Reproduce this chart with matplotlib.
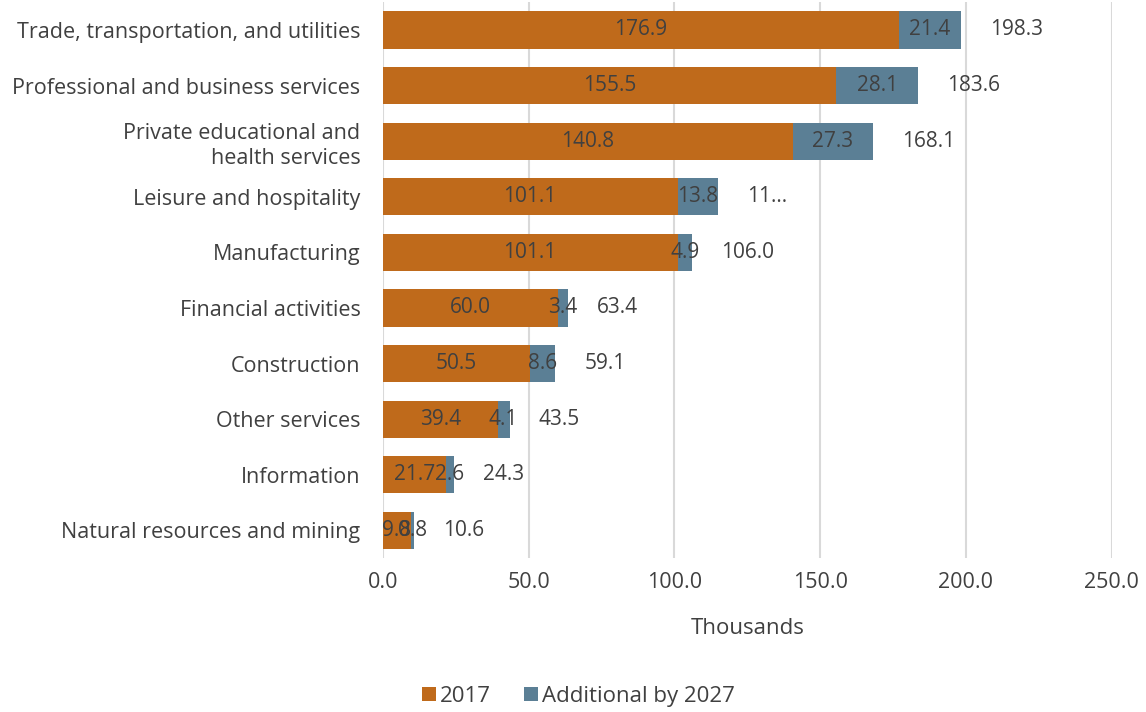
import matplotlib.pyplot as plt

plt.rcParams['font.family'] = ['Open Sans', 'DejaVu Sans']

# Employment by industry, thousands
industries = [
    "Trade, transportation, and utilities",
    "Professional and business services",
    "Private educational and\nhealth services",
    "Leisure and hospitality",
    "Manufacturing",
    "Financial activities",
    "Construction",
    "Other services",
    "Information",
    "Natural resources and mining",
]
base_2017 = [176.9, 155.5, 140.8, 101.1, 101.1, 60.0, 50.5, 39.4, 21.7, 9.8]
added_2027 = [21.4, 28.1, 27.3, 13.8, 4.9, 3.4, 8.6, 4.1, 2.6, 0.8]
total_labels = ["198.3", "183.6", "168.1", "11...", "106.0", "63.4", "59.1", "43.5", "24.3", "10.6"]

orange = "#BF6A1B"
blue = "#5B7F95"
txt = "#404040"

fig = plt.figure(figsize=(11.46, 7.12), dpi=100)
ax = fig.add_axes([0.334, 0.216, 0.636, 0.781])

y = list(range(len(industries)))
totals = [a + b for a, b in zip(base_2017, added_2027)]

b1 = ax.barh(y, base_2017, height=0.67, color=orange, label="2017", zorder=3)
b2 = ax.barh(y, added_2027, left=base_2017, height=0.67, color=blue,
             label="Additional by 2027", zorder=3)

ax.bar_label(b1, labels=[f"{v:.1f}" for v in base_2017], label_type="center",
             color=txt, fontsize=15)
ax.bar_label(b2, labels=[f"{v:.1f}" for v in added_2027], label_type="center",
             color=txt, fontsize=15)

# totals sit just past the end of each bar
for yi, t, lab in zip(y, totals, total_labels):
    ax.text(t + 10, yi, lab, va="center", ha="left", color=txt, fontsize=15)

ax.set_xlim(0, 250)
ax.set_ylim(len(industries) - 0.5, -0.5)
ax.set_yticks(y)
ax.set_yticklabels(industries, fontsize=15.5, color=txt, linespacing=1.3)
ax.set_xticks([0, 50, 100, 150, 200, 250])
ax.set_xticklabels([f"{v:.1f}" for v in [0, 50, 100, 150, 200, 250]],
                   fontsize=15.5, color=txt)
ax.tick_params(length=0)
ax.tick_params(axis="y", pad=16)
ax.tick_params(axis="x", pad=10)
ax.xaxis.grid(True, color="#D9D9D9", linewidth=1.5, zorder=0)
for s in ax.spines.values():
    s.set_visible(False)
ax.set_xlabel("Thousands", fontsize=16, color=txt, labelpad=18)

fig.legend(handles=[b1, b2], loc="center", bbox_to_anchor=(0.505, 0.022),
           ncol=2, frameon=False, fontsize=16, labelcolor=txt,
           handlelength=0.6, handleheight=0.6, handletextpad=0.2, columnspacing=1.5)

fig.savefig("out.png", dpi=100)
